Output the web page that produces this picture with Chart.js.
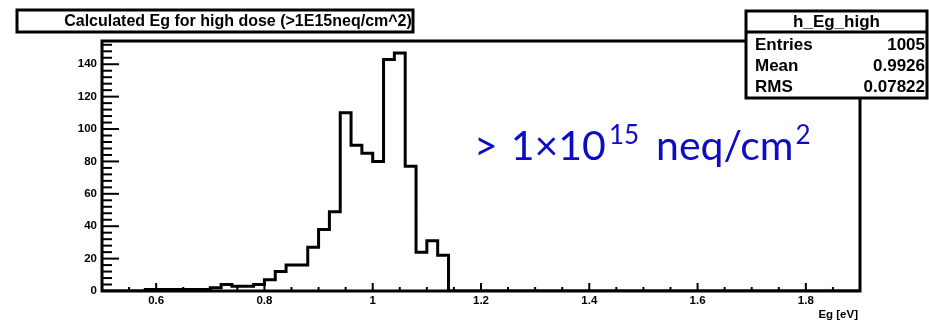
<!DOCTYPE html>
<html>
<head>
<meta charset="utf-8">
<title>h_Eg_high</title>
<script src="https://cdn.jsdelivr.net/npm/chart.js@4/dist/chart.umd.min.js"></script>
<style>
  html, body { margin: 0; padding: 0; background: #fff; }
  #wrap { position: relative; width: 929px; height: 324px; }
</style>
</head>
<body>
<div id="wrap"><canvas id="egChart" width="929" height="324"></canvas></div>
<script>
// Histogram binning (eV)
const BIN_LOW = 0.5;
const BIN_WIDTH = 0.02;
const X_MAX = 1.9;

// Entries per bin, 70 bins from 0.50 to 1.90 eV
const binCounts = [
    0, 0, 0, 0, 1, 1, 1, 1, 1, 1,        // 0.50 - 0.70
    2, 4, 3, 3, 4, 7, 12, 16, 16, 27,    // 0.70 - 0.90
    38, 49, 110, 90, 85, 80, 143, 147, 77, 24, // 0.90 - 1.10
    31, 22, 0, 0, 0, 0, 0, 0, 0, 0,      // 1.10 - 1.30
    0, 0, 0, 0, 0, 0, 0, 0, 0, 0,
    0, 0, 0, 0, 0, 0, 0, 0, 0, 0,
    0, 0, 0, 0, 0, 0, 0, 0, 0, 0
];

const xTickValues = [0.6, 0.8, 1.0, 1.2, 1.4, 1.6, 1.8];
const xTickLabels = ['0.6', '0.8', '1', '1.2', '1.4', '1.6', '1.8'];
const yTickValues = [0, 20, 40, 60, 80, 100, 120, 140];
const yTickLabels = ['0', '20', '40', '60', '80', '100', '120', '140'];

const histTitle = 'Calculated Eg for high dose (>1E15neq/cm^2)';
const xAxisTitle = 'Eg [eV]';
const statsName = 'h_Eg_high';
const statsLabels = ['Entries', 'Mean', 'RMS'];
const statsValues = ['1005', '0.9926', '0.07822'];

// Blue dose annotation, pieces flagged as superscript
const doseText = ['>', '1×10', '15', 'neq/cm', '2'];
const doseSup = [false, false, true, false, true];

const FONT = '"Liberation Sans", Arial, sans-serif';
const DOSE_FONT = 'Lato, "Open Sans", sans-serif';
const DOSE_COLOR = '#0c0cc6';

/**
 * Build step points: one per bin low edge, plus the closing edge
 */
function buildHistPoints() {
    const pts = binCounts.map((c, i) => ({ x: BIN_LOW + i * BIN_WIDTH, y: c }));
    pts.push({ x: X_MAX, y: 0 });
    return pts;
}

/**
 * ROOT-style frame, inner ticks, labels, title and stats boxes
 */
const rootDecor = {
    id: 'rootDecor',
    afterDatasetsDraw(chart) {
        const { ctx, chartArea: a, scales } = chart;
        const xs = scales.x, ys = scales.y;
        ctx.save();
        ctx.strokeStyle = '#000';
        ctx.fillStyle = '#000';

        // frame
        ctx.lineWidth = 3;
        ctx.strokeRect(a.left, a.top, a.right - a.left, a.bottom - a.top);

        // x ticks every 0.05, major every 0.2
        ctx.lineWidth = 2;
        for (let k = 10; k <= 38; k++) {
            const px = xs.getPixelForValue(k * 0.05);
            const len = (k % 4 === 0) ? 8 : 4;
            ctx.beginPath();
            ctx.moveTo(px, a.bottom);
            ctx.lineTo(px, a.bottom - len);
            ctx.stroke();
        }
        // y ticks every 4, major every 20
        for (let v = 0; v <= 152; v += 4) {
            const py = ys.getPixelForValue(v);
            const len = (v % 20 === 0) ? 17 : 10;
            ctx.beginPath();
            ctx.moveTo(a.left, py);
            ctx.lineTo(a.left + len, py);
            ctx.stroke();
        }

        // tick labels
        ctx.font = 'bold 11.5px ' + FONT;
        ctx.textAlign = 'center';
        ctx.textBaseline = 'middle';
        xTickValues.forEach((v, i) => {
            ctx.fillText(xTickLabels[i], xs.getPixelForValue(v), a.bottom + 10);
        });
        ctx.textAlign = 'right';
        yTickValues.forEach((v, i) => {
            ctx.fillText(yTickLabels[i], a.left - 5, ys.getPixelForValue(v));
        });
        ctx.fillText(xAxisTitle, a.right - 2, 315);

        // title box
        ctx.fillStyle = '#fff';
        ctx.fillRect(17, 10, 396, 22);
        ctx.lineWidth = 3;
        ctx.strokeRect(17, 10, 396, 22);
        ctx.fillStyle = '#000';
        ctx.font = 'bold 16px ' + FONT;
        ctx.textAlign = 'center';
        ctx.fillText(histTitle, 238, 21.5);

        // stats box
        const sx = 746, sy = 11, sw = 181, sh = 87;
        ctx.fillStyle = '#fff';
        ctx.fillRect(sx, sy, sw, sh);
        ctx.strokeRect(sx, sy, sw, sh);
        ctx.beginPath();
        ctx.moveTo(sx, 32);
        ctx.lineTo(sx + sw, 32);
        ctx.stroke();
        ctx.fillStyle = '#000';
        ctx.font = 'bold 17px ' + FONT;
        ctx.fillText(statsName, sx + sw / 2, 22);
        statsLabels.forEach((lab, i) => {
            const ty = 45 + i * 21;
            ctx.textAlign = 'left';
            ctx.fillText(lab, sx + 9, ty);
            ctx.textAlign = 'right';
            ctx.fillText(statsValues[i], sx + sw - 2, ty);
        });

        drawDoseLabel(ctx, 474, 160);
        ctx.restore();
    }
};

/**
 * Draw the dose annotation with superscripts; gap after each piece
 */
function drawDoseLabel(ctx, x, base) {
    const gaps = [13, 3, 17, 2, 0];
    ctx.fillStyle = DOSE_COLOR;
    ctx.textAlign = 'left';
    ctx.textBaseline = 'alphabetic';
    doseText.forEach((t, i) => {
        const sup = doseSup[i];
        ctx.font = (sup ? '26px ' : '41px ') + DOSE_FONT;
        ctx.fillText(t, x, sup ? base - 16 : base);
        x += ctx.measureText(t).width + gaps[i];
    });
}

const ctx = document.getElementById('egChart').getContext('2d');
new Chart(ctx, {
    type: 'line',
    data: {
        datasets: [{
            data: buildHistPoints(),
            stepped: true,
            borderColor: '#000',
            borderWidth: 3,
            pointRadius: 0,
            fill: false
        }]
    },
    options: {
        responsive: false,
        animation: false,
        layout: { padding: { left: 102, right: 69, top: 41, bottom: 33 } },
        plugins: { legend: { display: false }, tooltip: { enabled: false } },
        scales: {
            x: { type: 'linear', min: BIN_LOW, max: X_MAX, display: false },
            y: { min: 0, max: 154.35, display: false }
        }
    },
    plugins: [rootDecor]
});
</script>
</body>
</html>
